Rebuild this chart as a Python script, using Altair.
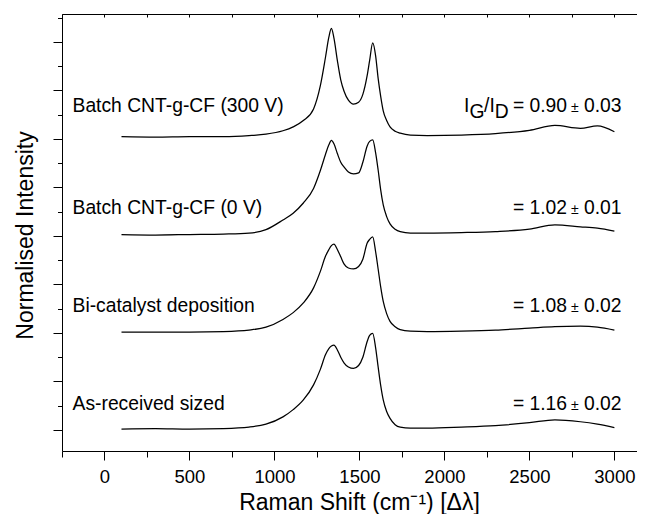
import altair as alt
import pandas as pd

# ---- data ----
raman_shift = [100, 300, 500, 700, 850, 950, 1050, 1110, 1170, 1230,
               1270, 1300, 1320, 1335, 1350, 1370, 1390, 1410, 1435, 1465,
               1495, 1520, 1545, 1560, 1578, 1595, 1610, 1625, 1640, 1660,
               1680, 1710, 1740, 1800, 1900, 2100, 2300, 2500, 2650, 2800,
               2900, 3000]

int_300v = [0.05, 0.04, 0.05, 0.05, 0.07, 0.10, 0.17, 0.25, 0.38, 0.62,
            1.10, 1.68, 2.10, 2.28, 2.08, 1.62, 1.22, 0.98, 0.80, 0.72,
            0.76, 0.92, 1.30, 1.62, 1.98, 1.72, 1.25, 0.88, 0.58, 0.38,
            0.25, 0.16, 0.12, 0.08, 0.07, 0.08, 0.11, 0.18, 0.28, 0.22,
            0.27, 0.15]

int_0v = [0.03, 0.02, 0.03, 0.04, 0.06, 0.13, 0.33, 0.47, 0.68, 0.98,
          1.35, 1.68, 1.88, 1.97, 1.90, 1.70, 1.52, 1.42, 1.32, 1.28,
          1.30, 1.52, 1.85, 1.95, 1.98, 1.72, 1.36, 0.95, 0.64, 0.40,
          0.25, 0.14, 0.09, 0.06, 0.06, 0.07, 0.09, 0.14, 0.23, 0.19,
          0.16, 0.10]

int_bicat = [0.02, 0.02, 0.02, 0.03, 0.06, 0.12, 0.28, 0.42, 0.62, 0.93,
             1.27, 1.58, 1.72, 1.80, 1.83, 1.72, 1.57, 1.42, 1.34, 1.32,
             1.37, 1.52, 1.85, 1.93, 1.98, 1.68, 1.32, 0.95, 0.65, 0.40,
             0.24, 0.13, 0.07, 0.04, 0.03, 0.04, 0.06, 0.10, 0.13, 0.14,
             0.12, 0.06]

int_asrec = [0.02, 0.03, 0.02, 0.03, 0.06, 0.12, 0.27, 0.42, 0.62, 0.93,
             1.25, 1.55, 1.68, 1.73, 1.75, 1.65, 1.50, 1.38, 1.30, 1.27,
             1.33, 1.50, 1.82, 1.95, 1.99, 1.70, 1.30, 0.92, 0.62, 0.38,
             0.24, 0.11, 0.06, 0.04, 0.04, 0.06, 0.09, 0.15, 0.21, 0.17,
             0.12, 0.05]

series_names = ["Batch CNT-g-CF (300 V)", "Batch CNT-g-CF (0 V)",
                "Bi-catalyst deposition", "As-received sized"]
series_offsets = [6, 4, 2, 0]
ratio_values = ["0.90", "1.02", "1.08", "1.16"]
ratio_errors = ["0.03", "0.01", "0.02", "0.02"]

x_ticks = [-250, 0, 250, 500, 750, 1000, 1250, 1500, 1750, 2000, 2250,
           2500, 2750, 3000]
y_ticks = [0, 0.5, 1, 1.5, 2, 2.5, 3, 3.5, 4, 4.5, 5, 5.5, 6, 6.5, 7, 7.5,
           8, 8.5]

# annotation placement (data units)
row_y = [6.557, 4.454, 2.44, 0.41]
label_x = -188
eq_x = 2403
pm_x = 2768
err_x = 2821
ig_parts = ["I", "G", "/I", "D"]
ig_x = [2115, 2147, 2233, 2296]
ig_sub = [0, 1, 0, 1]

# ---- tables ----
rows = []
for name, off, vals in zip(series_names, series_offsets,
                           [int_300v, int_0v, int_bicat, int_asrec]):
    for xv, yv in zip(raman_shift, vals):
        rows.append({"series": name, "shift": xv, "intensity": off + yv})
spectra = pd.DataFrame(rows)

labels_df = pd.DataFrame({"text": series_names, "x": [label_x] * 4, "intensity": row_y})
eq_df = pd.DataFrame({"text": ["= " + v for v in ratio_values], "x": [eq_x] * 4, "intensity": row_y})
pm_df = pd.DataFrame({"text": ["±"] * 4, "x": [pm_x] * 4, "intensity": row_y})
err_df = pd.DataFrame({"text": ratio_errors, "x": [err_x] * 4, "intensity": row_y})
ig_df = pd.DataFrame({"text": ig_parts, "x": ig_x, "intensity": [row_y[0]] * 4, "sub": ig_sub})

FONT = "Liberation Sans"
xscale = alt.Scale(domain=[-250, 3133], nice=False, zero=False)
yscale = alt.Scale(domain=[-0.433, 8.577], nice=False, zero=False)

yaxis = alt.Axis(orient="left", values=y_ticks, labels=False,
                 tickSize=alt.ExprRef("datum.value % 1 === 0 ? 9 : 4.5"),
                 tickColor="black", domain=True, domainColor="black",
                 domainWidth=1, grid=False,
                 title="Normalised Intensity", titleFont=FONT,
                 titleFontSize=23, titleFontWeight="normal",
                 titleColor="black", titleX=-30, titleY=221,
                 titleAngle=270, titleAlign="center",
                 titleBaseline="alphabetic")
Y = alt.Y("intensity:Q", scale=yscale, axis=yaxis, title="Normalised Intensity")

lines = alt.Chart(spectra).mark_line(
    color="black", strokeWidth=1.25, interpolate="monotone"
).encode(
    x=alt.X("shift:Q", scale=xscale,
            axis=alt.Axis(orient="bottom", values=x_ticks, format="d",
                          labelExpr="datum.value % 500 === 0 ? datum.label : ''",
                          tickSize=alt.ExprRef("datum.value % 500 === 0 ? 9 : 6"),
                          labelPadding=7, labelFontSize=18.5, labelFont=FONT,
                          labelColor="black", tickColor="black", domainColor="black",
                          grid=False, labelFlush=False, labelOverlap=False,
                          title="Raman Shift (cm⁻¹) [Δλ]", titleFont=FONT,
                          titleFontSize=23, titleFontWeight="normal",
                          titleColor="black", titleX=297, titleY=58,
                          titleAlign="center", titleBaseline="alphabetic")),
    y=Y,
    detail="series:N",
)

top_axis = alt.Chart(spectra).mark_line(strokeOpacity=0).encode(
    x=alt.X("shift:Q", scale=xscale,
            axis=alt.Axis(orient="top", values=x_ticks, labels=False,
                          tickSize=alt.ExprRef("-3"), tickColor="black",
                          domainColor="black", grid=False, title=None)),
    y=Y,
    detail="series:N",
)


def text_layer(df, align, size=19.3, dy=0):
    return alt.Chart(df).mark_text(
        align=align, baseline="alphabetic", font=FONT, fontSize=size,
        color="black", dy=dy
    ).encode(
        x=alt.X("x:Q", scale=xscale, axis=None),
        y=Y,
        text="text:N",
    )


labels = text_layer(labels_df, "left")
eqs = text_layer(eq_df, "left")
pms = text_layer(pm_df, "center", size=14)
errs = text_layer(err_df, "left")
ig_main = text_layer(ig_df[ig_df["sub"] == 0], "left")
ig_subs = text_layer(ig_df[ig_df["sub"] == 1], "left", dy=6)

chart = alt.layer(
    lines, top_axis, labels, eqs, pms, errs, ig_main, ig_subs
).resolve_axis(x="independent").properties(
    width=575, height=437,
    autosize=alt.AutoSizeParams(type="none"),
    padding={"left": 54, "top": 6, "right": 0, "bottom": 63},
    background="white",
).configure_view(stroke=None)

chart.save("out.html", embed_options={"renderer": "svg", "actions": False})
